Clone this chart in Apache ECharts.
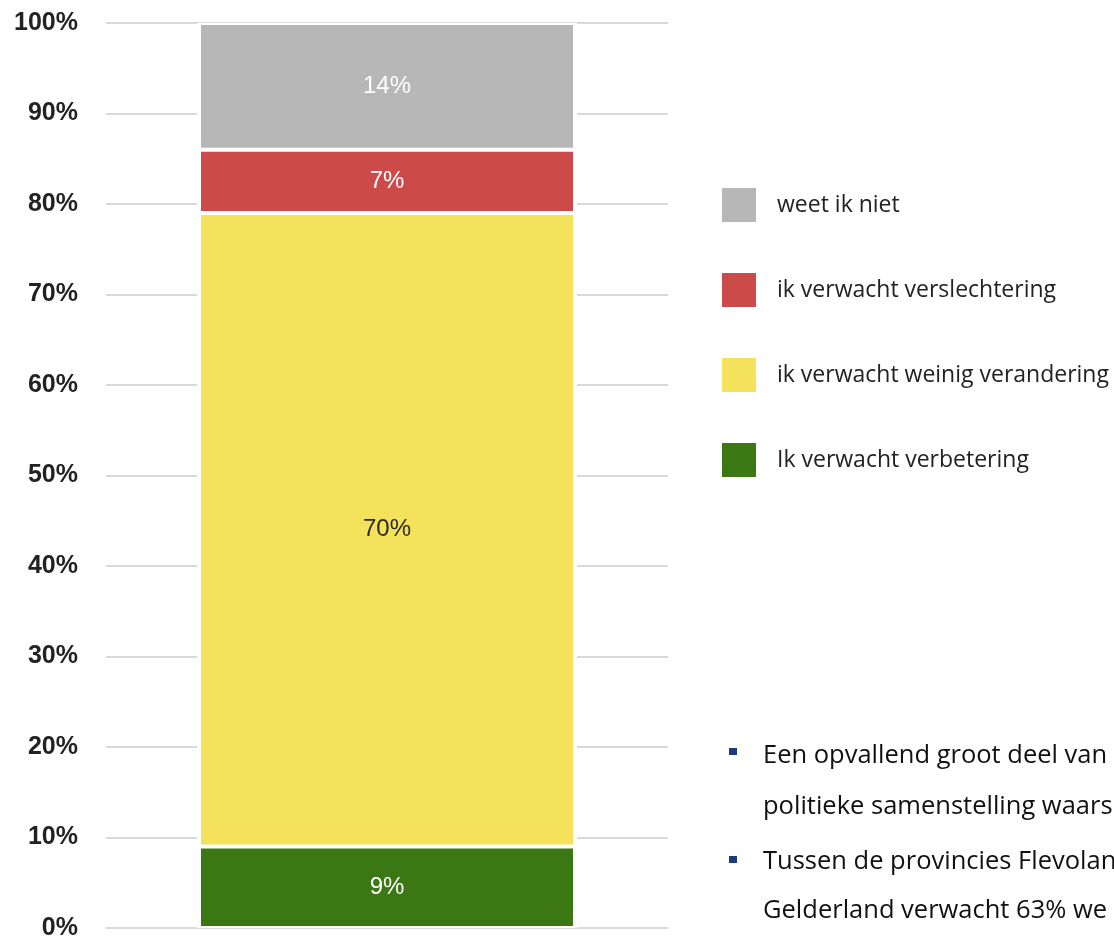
<!DOCTYPE html>
<html>
<head>
<meta charset="utf-8">
<script src="https://cdn.jsdelivr.net/npm/echarts@6/dist/echarts.min.js"></script>
<style>html,body{margin:0;padding:0;background:#fff}#c{width:1114px;height:937px}</style>
</head>
<body>
<div id="c"></div>
<script>
var categories = ['Totaal'];
var seriesNames = ['Ik verwacht verbetering', 'ik verwacht weinig verandering', 'ik verwacht verslechtering', 'weet ik niet'];
var verbetering = [9];
var weinigVerandering = [70];
var verslechtering = [7];
var weetIkNiet = [14];
var backdrop = [100];
var tickLabels = ['0%','10%','20%','30%','40%','50%','60%','70%','80%','90%','100%'];
var bullets = [
  ['Een opvallend groot deel van', 'politieke samenstelling waars'],
  ['Tussen de provincies Flevolan', 'Gelderland verwacht 63% we']
];

var colors = ['#3b7713', '#f4e15c', '#cc4a4a', '#b7b7b7'];
var labelColors = ['#ffffff', '#2b2b2b', '#ffffff', '#ffffff'];
var values = [verbetering, weinigVerandering, verslechtering, weetIkNiet];

var chart = echarts.init(document.getElementById('c'));
var series = [{
  type: 'bar', xAxisIndex: 1, barWidth: 380, data: backdrop, silent: true,
  itemStyle: { color: '#ffffff' }, z: 1, legendHoverLink: false
}];
values.forEach(function (v, i) {
  series.push({
    name: seriesNames[i],
    type: 'bar',
    stack: 'total',
    barWidth: 376,
    z: 2,
    data: v,
    itemStyle: { color: colors[i], borderColor: '#ffffff', borderWidth: 2 },
    label: {
      show: true, position: 'inside', formatter: '{c}%',
      color: labelColors[i], fontSize: 24, fontFamily: 'Liberation Sans, Arial, sans-serif'
    }
  });
});

var graphics = [];
var lineY = [756, 807, 862, 911];
var sqY = [748, 856];
var k = 0;
bullets.forEach(function (b, bi) {
  graphics.push({ type: 'rect', shape: { x: 729, y: sqY[bi], width: 8, height: 7 }, style: { fill: '#1f3a78' } });
  b.forEach(function (line) {
    graphics.push({ type: 'text', x: 763, y: lineY[k], style: { text: line, font: '25.5px "Open Sans", sans-serif', fill: '#111111', textVerticalAlign: 'middle' } });
    k++;
  });
});

chart.setOption({
  animation: false,
  color: colors,
  grid: { left: 106, right: 446, top: 23, bottom: 9, containLabel: false, outerBoundsMode: 'none' },
  legend: {
    orient: 'vertical',
    left: 715,
    top: 181,
    itemWidth: 36,
    itemHeight: 36,
    itemGap: 47,
    icon: 'rect',
    data: seriesNames.slice().reverse(),
    textStyle: { fontSize: 23, fontFamily: '"Open Sans", sans-serif', color: '#222222', padding: [0, 0, 0, 15] },
    selectedMode: false
  },
  xAxis: [{
    type: 'category', data: categories,
    axisLine: { show: false }, axisTick: { show: false }, axisLabel: { show: false }
  }, {
    type: 'category', data: categories, show: false
  }],
  yAxis: {
    type: 'value', min: 0, max: 100, interval: 10,
    axisLine: { show: false }, axisTick: { show: false },
    splitLine: { lineStyle: { color: '#d9d9d9', width: 2 } },
    axisLabel: {
      margin: 28,
      formatter: function (v) { return tickLabels[Math.round(v / 10)]; },
      fontSize: 25, fontWeight: 'bold', color: '#222222',
      fontFamily: 'Liberation Sans, Arial, sans-serif'
    }
  },
  series: series,
  graphic: graphics
});
</script>
</body>
</html>
